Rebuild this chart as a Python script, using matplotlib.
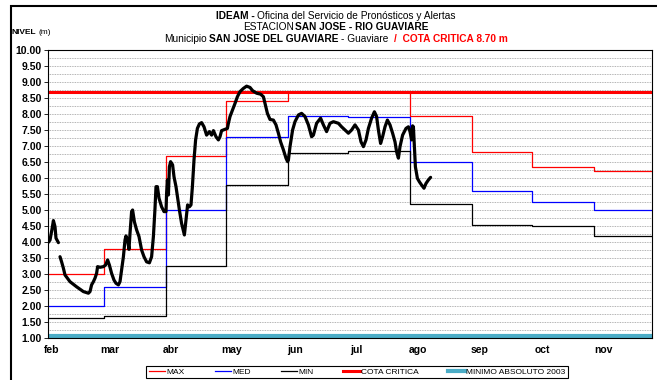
import numpy as np
import matplotlib.pyplot as plt
from matplotlib.patches import Rectangle

plt.rcParams['font.family'] = ['Liberation Sans', 'DejaVu Sans']

# months on the x axis, day 0 = 1 feb
MONTHS = ["feb", "mar", "abr", "may", "jun", "jul", "ago", "sep", "oct", "nov"]
MONTH_START = [0, 28, 59, 89, 120, 150, 181, 212, 242, 273, 303]
LABEL_DAY = [2, 31, 61.5, 92, 123.5, 154, 185, 216, 247, 277.5]

# monthly historical levels (m)
NIV_MAX = [3.00, 3.78, 6.70, 8.42, 8.70, 8.70, 7.95, 6.80, 6.33, 6.22]
NIV_MED = [2.00, 2.60, 5.00, 7.28, 7.95, 7.92, 6.50, 5.58, 5.26, 5.00]
NIV_MIN = [1.63, 1.70, 3.26, 5.77, 6.78, 6.85, 5.19, 4.54, 4.50, 4.18]
COTA_CRITICA = 8.70
MINIMO_2003 = 1.07

# observed daily level (NaN = missing data)
OBS_DAY = [0, 1, 2, 2.7, 3.5, 4, 5.2, 5.6,
           6, 6.8, 7.7, 8.5, 11, 14.3, 17.7, 20.2, 21, 21.8, 22.7, 23.5, 24.3, 24.8,
           26, 27.7, 28.8, 29.8, 30.7, 31.8, 33, 34, 35.2, 36, 36.8, 37.7, 38.5, 39,
           39.8, 40.5, 41, 41.8, 42.3, 43.2, 44.3, 45.5, 46.8, 48, 49.3, 50.7, 51.8,
           52.7, 53.5, 54, 54.7, 55.5, 56.8, 58, 59, 59.3, 59.7, 60.2, 60.7, 61.3,
           62.3, 63, 64, 64.7, 65.7, 66.8, 68.2, 69, 69.8, 70.7, 71.5, 72.2, 73, 73.8,
           74.7, 75.7, 76.8, 78, 79.3, 80.7, 81.8, 82.7, 84, 85.2, 86, 86.8, 88.5,
           89.7, 90.2, 91, 92.3, 93.5, 94.7, 96, 97.7, 99.3, 101, 102.3, 104.3, 106.3,
           107.7, 108.5, 109.7, 111, 112.7, 114, 115.2, 116.3, 117.7, 119, 119.8,
           120.2, 121, 122.3, 123.5, 125.2, 126.8, 128.5, 130.2, 131.8, 132.7, 134.3,
           136.3, 137.7, 139.3, 141, 142.7, 145.2, 146.8, 148.5, 150.2, 151.8, 153.5,
           155.2, 156.5, 157.7, 159, 160.2, 161.8, 163.2, 164.3, 165.2, 166.3, 167.3,
           168.5, 169.7, 171, 172.3, 173.5, 174.3, 175.2, 176, 177.3, 179, 180.2, 181,
           181.8, 182.3, 182.7, 183.2, 183.7, 184.7, 185.7, 186.8, 188, 189, 190.2,
           191.3]
OBS_NIVEL = [3.98, 4.06, 4.40, 4.67, 4.48, 4.12, 3.98, np.nan,
             3.54, 3.38, 3.18, 2.97, 2.76, 2.60, 2.45, 2.40, 2.45, 2.66, 2.76, 2.87, 3.02, 3.23,
             3.21, 3.23, 3.28, 3.44, 3.28, 3.02, 2.81, 2.71, 2.66, 2.76, 3.13, 3.54, 4.06, 4.19,
             4.06, 3.77, 4.27, 4.95, 5.00, 4.63, 4.38, 4.17, 3.75, 3.54, 3.38, 3.35, 3.54,
             4.17, 5.05, 5.73, 5.73, 5.37, 5.10, 4.95, 4.95, 5.52, 5.94, 5.47, 6.35, 6.51,
             6.41, 6.04, 5.73, 5.42, 5.00, 4.58, 4.22, 4.69, 5.16, 5.10, 5.16, 5.73, 6.56, 7.19,
             7.55, 7.69, 7.73, 7.60, 7.34, 7.45, 7.34, 7.48, 7.29, 7.19, 7.29, 7.48, 7.52,
             7.55, 7.71, 7.92, 8.13, 8.33, 8.54, 8.70, 8.80, 8.87, 8.83, 8.73, 8.65, 8.62,
             8.54, 8.33, 8.02, 7.83, 7.81, 7.66, 7.40, 7.13, 6.88, 6.62, 6.51,
             6.56, 6.98, 7.50, 7.76, 7.97, 8.02, 7.92, 7.66, 7.29, 7.34, 7.71,
             7.87, 7.66, 7.45, 7.71, 7.76, 7.71, 7.60, 7.50, 7.40, 7.50, 7.66,
             7.50, 7.13, 6.98, 7.19, 7.55, 7.87, 8.07, 7.92, 7.50, 7.08, 7.29,
             7.60, 7.81, 7.66, 7.40, 7.13, 6.82, 6.62, 6.98, 7.34, 7.55, 7.60, 7.45,
             7.19, 7.63, 7.60, 6.98, 6.35, 5.99, 5.88, 5.78, 5.68, 5.83, 5.94,
             6.02]

C_MAX = "#ff0000"
C_MED = "#0000ff"
C_MIN = "#000000"
C_MIN2003 = "#4bacc6"

W, H = 657, 380
fig = plt.figure(figsize=(W / 100, H / 100), dpi=100)
ax = fig.add_axes([48 / W, 42 / H, 604 / W, 288 / H])

# outer frame of the sheet
fig.patches.append(Rectangle((11 / W, -0.1), 1.2, 1.1 - 6 / H, transform=fig.transFigure,
                             fill=False, edgecolor="black", linewidth=1.5))


def step_values(vals):
    return vals + vals[-1:]


ax.step(MONTH_START, step_values(NIV_MAX), where="post", color=C_MAX, lw=0.9, label="MAX")
ax.step(MONTH_START, step_values(NIV_MED), where="post", color=C_MED, lw=0.9, label="MED")
ax.step(MONTH_START, step_values(NIV_MIN), where="post", color=C_MIN, lw=0.9, label="MIN")
ax.axhline(COTA_CRITICA, color=C_MAX, lw=2.2, label="COTA CRITICA")
ax.axhline(MINIMO_2003, color=C_MIN2003, lw=3.0, label="MINIMO ABSOLUTO 2003")
ax.plot(OBS_DAY, OBS_NIVEL, color="black", lw=2.3, solid_joinstyle="round",
        solid_capstyle="round", zorder=5)

ax.set_xlim(0, 302)
ax.set_ylim(1.0, 10.0)
ax.set_yticks(np.arange(1.0, 10.01, 0.5))
ax.set_yticklabels([f"{v:.2f}" for v in np.arange(1.0, 10.01, 0.5)],
                   fontsize=7.5, fontweight="bold")
ax.set_yticks(np.arange(1.0, 10.01, 0.25), minor=True)
ax.tick_params(axis="y", which="major", length=3, width=0.6, pad=1.5)
ax.tick_params(axis="y", which="minor", length=0)
ax.grid(axis="y", which="both", color="#9a9a9a", linestyle=(0, (1, 1)), lw=0.6)
ax.set_axisbelow(True)

ax.set_xticks(LABEL_DAY)
ax.set_xticklabels(MONTHS, fontsize=7.5, fontweight="bold")
ax.tick_params(axis="x", length=0, pad=5)
for sp in ax.spines.values():
    sp.set_linewidth(0.8)

leg = fig.legend(loc="center", bbox_to_anchor=(357 / W, 8 / H), ncol=5, fontsize=6.0,
                 frameon=True, fancybox=False, edgecolor="black", framealpha=1,
                 handlelength=2.0, handletextpad=0.1, columnspacing=3.6,
                 borderpad=0.3, borderaxespad=0)
leg.get_frame().set_linewidth(0.8)

renderer = fig.canvas.get_renderer()


def rich_line(x0, y, parts, size, centred=True):
    """Lay out a line of text made of pieces with their own weight and colour."""
    items = []
    for text, weight, color, gap in parts:
        t = fig.text(0, y / H, text, fontsize=size, fontweight=weight, color=color,
                     ha="left", va="center")
        items.append((t, t.get_window_extent(renderer).width, gap))
    total = sum(w + g for _, w, g in items)
    x = x0 - total / 2 if centred else x0
    for t, w, g in items:
        x += g
        t.set_x(x / W)
        x += w


rich_line(336, H - 16, [("IDEAM -", "bold", "black", 0),
                        ("Oficina del Servicio de Pronósticos y Alertas", "normal", "black", 2.5)], 7.3)
rich_line(336, H - 27, [("ESTACION", "normal", "black", 0),
                        ("SAN JOSE - RIO GUAVIARE", "bold", "black", 1)], 7.3)
rich_line(336, H - 39, [("Municipio", "normal", "black", 0),
                        ("SAN JOSE DEL GUAVIARE", "bold", "black", 2.5),
                        ("- Guaviare", "normal", "black", 2.5),
                        ("/  COTA CRITICA 8.70 m", "bold", "#ff0000", 6)], 7.3)

rich_line(12, H - 32, [("NIVEL", "bold", "black", 0),
                       ("(m)", "normal", "black", 2)], 6.0, centred=False)

fig.savefig("out.png", dpi=100)
